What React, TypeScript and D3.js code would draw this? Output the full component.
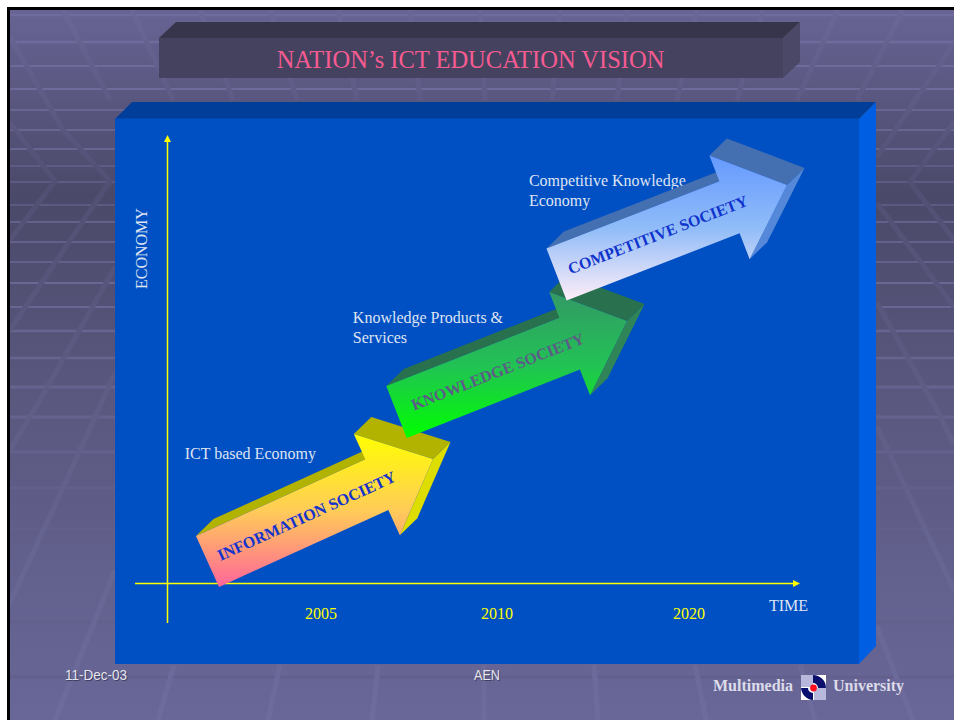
import React from "react";
import * as d3 from "d3";

const W = 954, H = 720;

// ---- data (chart units: time 0..100, economy 0..100)
const societies = ["INFORMATION SOCIETY", "KNOWLEDGE SOCIETY", "COMPETITIVE SOCIETY"];
const tailTime = [6.45, 36.29, 61.56];
const tailEconomy = [4.74, 38.13, 68.84];
const tipTime = [42.05, 72.69, 97.95];
const tipEconomy = [27.63, 58.46, 88.83];
const yearLabels = ["2005", "2010", "2020"];
const yearPositions = [24.37, 52.16, 82.48];
const captions = [["ICT based Economy"], ["Knowledge Products &", "Services"], ["Competitive Knowledge", "Economy"]];
const captionTime = [2.85, 29.4, 57.2];
const captionEconomy = [27.6, 58.0, 88.5];

// ---- styles
const frontTop = ["#ffff00", "#339966", "#6699ff"];
const frontMid = ["#ffcc58", "#22c255", "#90bcf8"];
const frontBottom = ["#ff6699", "#00ff00", "#ffeef8"];
const topFace = ["#b2b200", "#28704e", "#4470b2"];
const sideFace = ["#dddd00", "#2f8558", "#5588d8"];
const labelColor = ["#1433cc", "#5c5c86", "#0f33cc"];

// ---- background line work
const hLines = [15, 42, 66, 89, 110, 130, 149, 166, 182, 205, 222, 242, 262, 283, 307, 331, 358, 387, 417, 452, 488, 529, 572, 622, 677];
const diagonals: [number, number][][] = [
  [[10, 123], [55, 181], [10, 240]],
  [[10, 37], [63, 130], [110, 181], [10, 330]],
  [[63, 10], [110, 100]],
  [[132, 10], [173, 100]],
  [[200, 10], [233, 100]],
  [[270, 10], [297, 100]],
  [[338, 10], [357, 100]],
  [[410, 10], [420, 100]],
  [[480, 10], [485, 100]],
  [[560, 10], [552, 100]],
  [[627, 10], [617, 100]],
  [[697, 10], [677, 100]],
  [[763, 10], [737, 100]],
  [[838, 10], [797, 100]],
  [[903, 10], [857, 100]],
  [[954, 43], [877, 157]],
  [[954, 122], [910, 182], [954, 240]],
  [[877, 203], [954, 307]],
  [[877, 303], [937, 410], [954, 445]],
  [[877, 427], [954, 590]],
  [[877, 627], [913, 720]],
  [[10, 450], [40, 400], [115, 267]],
  [[10, 603], [77, 457], [115, 373]],
  [[55, 720], [115, 570]],
  [[174, 665], [158, 720]],
  [[280, 665], [268, 720]],
  [[378, 665], [372, 720]],
  [[484, 665], [484, 720]],
  [[594, 665], [598, 720]],
  [[695, 665], [706, 720]],
  [[800, 665], [815, 720]],
];

const x = d3.scaleLinear().domain([-5, 100]).range([135, 800]);
const y = d3.scaleLinear().domain([-9, 100]).range([623, 135]);
const line = d3.line();
const poly = (pts: number[][]) => pts.map((p) => p.join(",")).join(" ");

const HEAD_LEN = 61.7, SHAFT_HALF = 27.9, HEAD_HALF = 55.6, DEPTH_X = 17.5, DEPTH_Y = -17;

function arrowGeometry(i: number) {
  const t = [x(tailTime[i]), y(tailEconomy[i])];
  const p = [x(tipTime[i]), y(tipEconomy[i])];
  const dx = p[0] - t[0], dy = p[1] - t[1];
  const len = Math.hypot(dx, dy);
  const u = [dx / len, dy / len];
  const n = [-u[1], u[0]];
  const at = (along: number, off: number) => [t[0] + u[0] * along + n[0] * off, t[1] + u[1] * along + n[1] * off];
  const ext = (q: number[]) => [q[0] + DEPTH_X, q[1] + DEPTH_Y];
  const neck = len - HEAD_LEN;
  const tl = at(0, -SHAFT_HALF), bl = at(0, SHAFT_HALF);
  const ju = at(neck, -SHAFT_HALF), jl = at(neck, SHAFT_HALF);
  const hu = at(neck, -HEAD_HALF), hl = at(neck, HEAD_HALF);
  return {
    front: [tl, ju, hu, p, hl, jl, bl],
    shaftTop: [tl, ext(tl), ext(ju), ju],
    headTop: [hu, ext(hu), ext(p), p],
    side: [p, ext(p), ext(hl), hl],
    label: at(len * 0.44, 0),
    angle: (Math.atan2(dy, dx) * 180) / Math.PI,
  };
}

const serif = "'Liberation Serif', serif";
const sans = "'Liberation Sans', sans-serif";
const pale = "#dfe4f2";

function Arrow({ i }: { i: number }) {
  const g = arrowGeometry(i);
  return (
    <g>
      <polygon points={poly(g.shaftTop)} fill={topFace[i]} />
      <polygon points={poly(g.headTop)} fill={topFace[i]} />
      <polygon points={poly(g.side)} fill={sideFace[i]} />
      <polygon points={poly(g.front)} fill={`url(#arrow${i})`} />
      <text
        transform={`translate(${g.label[0]},${g.label[1]}) rotate(${g.angle})`}
        textAnchor="middle"
        dy="5"
        fontFamily={serif}
        fontWeight="bold"
        fontSize="16"
        fill={labelColor[i]}
      >
        {societies[i]}
      </text>
    </g>
  );
}

export default function App() {
  const x0 = x.range()[0], x1 = x.range()[1];
  const y0 = y.range()[0], y1 = y.range()[1];
  const ax = Math.round(x(0)) + 0.5, ay = Math.round(y(0)) + 0.5;
  return (
    <svg width={W} height={H} viewBox={`0 0 ${W} ${H}`} style={{ position: "absolute", left: 0, top: 0, display: "block" }}>
      <defs>
        <clipPath id="bgClip"><rect x="10" y="10" width={W - 10} height={H - 10} /></clipPath>
        <linearGradient id="bg" x1="0" y1="0" x2="0" y2="1">
          <stop offset="0" stopColor="#676394" />
          <stop offset="0.26" stopColor="#4b4969" />
          <stop offset="0.55" stopColor="#5a587f" />
          <stop offset="1" stopColor="#696798" />
        </linearGradient>
        <linearGradient id="diag" gradientUnits="userSpaceOnUse" x1="0" y1="0" x2="0" y2={H}>
          <stop offset="0" stopColor="#6c6899" />
          <stop offset="0.26" stopColor="#524f74" />
          <stop offset="0.55" stopColor="#5f5d85" />
          <stop offset="1" stopColor="#6e6c9d" />
        </linearGradient>
        <linearGradient id="hline" gradientUnits="userSpaceOnUse" x1="0" y1="0" x2="0" y2={H}>
          <stop offset="0" stopColor="#6f6b9c" />
          <stop offset="0.26" stopColor="#6d6b99" />
          <stop offset="0.45" stopColor="#676591" />
          <stop offset="0.7" stopColor="#62608b" />
          <stop offset="1" stopColor="#625f8c" />
        </linearGradient>
        {societies.map((_, i) => (
          <linearGradient key={i} id={`arrow${i}`} x1="0" y1="0" x2="0" y2="1">
            <stop offset="0" stopColor={frontTop[i]} />
            <stop offset="0.5" stopColor={frontMid[i]} />
            <stop offset="1" stopColor={frontBottom[i]} />
          </linearGradient>
        ))}
      </defs>

      <rect width={W} height={H} fill="#ffffff" />
      <rect x="7" y="7" width={W - 7} height={H - 7} fill="#000000" />
      <rect x="10" y="10" width={W - 10} height={H - 10} fill="url(#bg)" />

      <g clipPath="url(#bgClip)">
        {hLines.map((v) => (
          <line
            key={v}
            x1="10"
            x2={W}
            y1={v}
            y2={v}
            stroke="url(#hline)"
            strokeWidth={Math.min(3, 1 + Math.abs(v - 190) / 110)}
          />
        ))}
        {diagonals.map((d, i) => (
          <path key={i} d={line(d) as string} fill="none" stroke="url(#diag)" strokeWidth="5" />
        ))}
      </g>

      {/* title block */}
      <polygon points="159,38 176,22 800,22 783,38" fill="#37354c" />
      <polygon points="783,38 800,22 800,62 783,78" fill="#4a4866" />
      <rect x="159" y="38" width="624" height="40" fill="#45425f" />
      <text x="470.5" y="67.5" textAnchor="middle" fontFamily={serif} fontSize="24.5" fill="#f65b92">
        NATION’s ICT EDUCATION VISION
      </text>

      {/* panel */}
      <polygon points="115,119 132,102 876,102 859,119" fill="#003e9a" />
      <polygon points="859,119 876,102 876,646 859,664" fill="#005ee2" />
      <rect x="115" y="118.5" width="744" height="545.5" fill="#0050c3" />

      {/* axes */}
      <line x1={x0} x2={x1 - 6} y1={ay} y2={ay} stroke="#ffff00" strokeWidth="1.5" />
      <polygon points={poly([[x1, ay], [x1 - 7, ay - 3.5], [x1 - 7, ay + 3.5]])} fill="#ffff00" />
      <line x1={ax} x2={ax} y1={y0} y2={y1 + 6} stroke="#ffff00" strokeWidth="1.5" />
      <polygon points={poly([[ax, y1], [ax - 3.5, y1 + 7], [ax + 3.5, y1 + 7]])} fill="#ffff00" />

      <text transform="translate(147,289) rotate(-90)" fontFamily={serif} fontSize="16" fill={pale}>ECONOMY</text>
      <text x="769" y="611" fontFamily={serif} fontSize="16" fill={pale}>TIME</text>
      {yearLabels.map((l, i) => (
        <text key={l} x={x(yearPositions[i])} y="619" textAnchor="middle" fontFamily={serif} fontSize="16" fill="#ffff00">
          {l}
        </text>
      ))}

      {captions.map((c, i) =>
        c.map((t, j) => (
          <text key={t} x={x(captionTime[i])} y={y(captionEconomy[i]) + j * 20} fontFamily={serif} fontSize="16" fill={pale}>
            {t}
          </text>
        ))
      )}

      {societies.map((_, i) => <Arrow key={i} i={i} />)}

      {/* footer */}
      {[["11-Dec-03", 65, 62], ["AEN", 474, 26]].map(([t, px, w]) => (
        <g key={t as string} fontFamily={sans} fontSize="14">
          <text x={(px as number) + 1} y="681" fill="#2a2840" opacity="0.6" textLength={w as number} lengthAdjust="spacingAndGlyphs">{t}</text>
          <text x={px as number} y="680" fill="#e6e6ee" textLength={w as number} lengthAdjust="spacingAndGlyphs">{t}</text>
        </g>
      ))}
      <text x="713" y="691" fontFamily={serif} fontWeight="bold" fontSize="16" fill="#dcdcea">Multimedia</text>
      <text x="833" y="691" fontFamily={serif} fontWeight="bold" fontSize="16" fill="#dcdcea">University</text>

      {/* logo */}
      <g>
        <rect x="801" y="675" width="25" height="25" fill="#ffffff" />
        <rect x="801" y="675" width="12" height="12" fill="#b8b8dc" />
        <rect x="814" y="688" width="12" height="12" fill="#b8b8dc" />
        <path d="M813,675 A13,13 0 0 1 826,688 L818,688 A5,5 0 0 0 813,683 Z" fill="#0a0f6e" />
        <path d="M813,700 A13,13 0 0 1 801,688 L808,688 A5,5 0 0 0 813,693 Z" fill="#0a0f6e" />
        <circle cx="813.5" cy="688" r="3.4" fill="#ff0a1e" />
      </g>
    </svg>
  );
}
